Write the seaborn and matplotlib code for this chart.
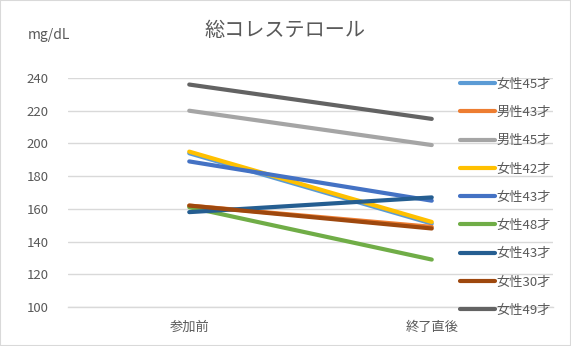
import matplotlib
matplotlib.use("Agg")
import matplotlib.pyplot as plt
import seaborn as sns
import pandas as pd
from matplotlib.lines import Line2D
from matplotlib.patches import Rectangle

categories = ["参加前", "終了直後"]
series_names = ["女性45才", "男性43才", "男性45才", "女性42才", "女性43才",
                "女性48才", "女性43才", "女性30才", "女性49才"]
before = [194, 162, 220, 195, 189, 161, 158, 162, 236]
after = [151, 149, 199, 152, 165, 129, 167, 148, 215]
colors = ["#5B9BD5", "#ED7D31", "#A5A5A5", "#FFC000", "#4472C4",
          "#70AD47", "#255E91", "#9E480E", "#636363"]
yticks = [100, 120, 140, 160, 180, 200, 220, 240]

sns.set_theme(style="white")
plt.rcParams['font.family'] = ['Noto Sans CJK JP', 'DejaVu Sans']

rows = []
for i, name in enumerate(series_names):
    rows.append({"id": i, "x": 0, "value": before[i]})
    rows.append({"id": i, "x": 1, "value": after[i]})
df = pd.DataFrame(rows)

fig = plt.figure(figsize=(5.71, 3.46), dpi=100)
ax = fig.add_axes([68/571, 1-307/346, (553-68)/571, (307-78)/346])

sns.lineplot(data=df, x="x", y="value", hue="id", palette=colors,
             linewidth=3.0, legend=False, ax=ax, solid_capstyle="round",
             zorder=3)

ax.set_xlim(-0.5, 1.5)
ax.set_ylim(100, 240)
ax.set_yticks(yticks)
ax.set_xticks([0, 1])
ax.set_xticklabels(categories)
ax.set_xlabel("")
ax.set_ylabel("")
ax.grid(axis="y", color="#D9D9D9", linewidth=1, zorder=0)
for s in ["top", "right", "left"]:
    ax.spines[s].set_visible(False)
ax.spines["bottom"].set_color("#D9D9D9")
ax.spines["bottom"].set_linewidth(1)
ax.tick_params(axis="both", length=0, colors="#595959", labelsize=9.5)
ax.tick_params(axis="x", pad=10)
ax.tick_params(axis="y", pad=14)

handles = [Line2D([0], [0], color=c, lw=3.0, solid_capstyle="round") for c in colors]
leg = ax.legend(handles, series_names, loc="upper left",
                bbox_to_anchor=((455-68)/485, 1.025), frameon=False,
                fontsize=9.5, labelcolor="#595959", handlelength=2.6,
                handletextpad=0.15, labelspacing=1.16, borderaxespad=0)

fig.text(285/571, 1-30/346, "総コレステロール", ha="center", va="center",
         fontsize=14.5, color="#595959")
fig.text(49/571, 1-35/346, "mg/dL", ha="center", va="center",
         fontsize=10, color="#595959")

fig.patches.append(Rectangle((0, 0), 1, 1, transform=fig.transFigure,
                             fill=False, edgecolor="#D9D9D9", linewidth=1.5))

fig.savefig("out.png", dpi=100)
